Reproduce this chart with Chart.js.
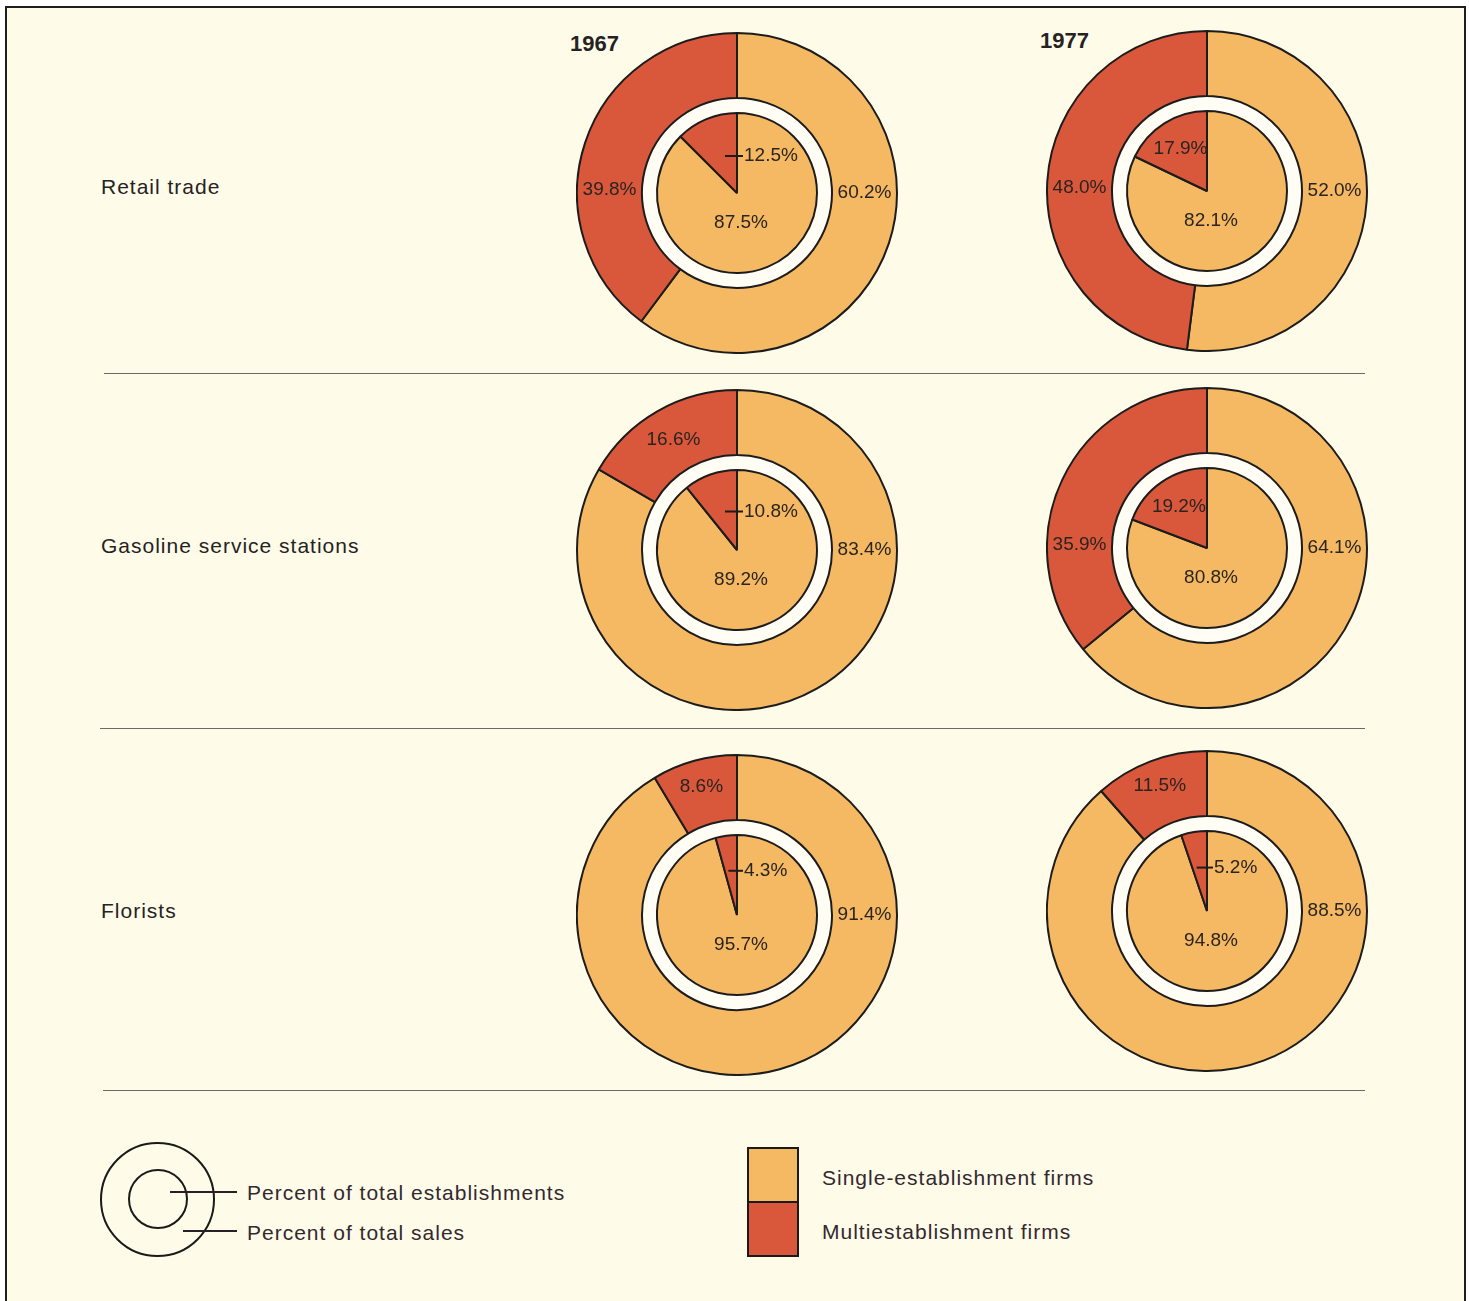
<!DOCTYPE html>
<html>
<head>
<meta charset="utf-8">
<script src="https://cdn.jsdelivr.net/npm/chart.js@4/dist/chart.umd.min.js"></script>
<style>
  html, body { margin: 0; padding: 0; background: #ffffff; }
  body { width: 1469px; height: 1301px; position: relative; overflow: hidden;
         font-family: "Liberation Sans", Arial, sans-serif; color: #262224; }
  #frame { position: absolute; left: 5px; top: 6px; width: 1457px; height: 1320px;
           border: 2px solid #1e1e1e; background: #fefce8; }
  .txt { position: absolute; transform: translateY(-50%); line-height: 1; white-space: nowrap; }
  .row { font-size: 21px; letter-spacing: 1px; }
  .year { font-size: 22px; font-weight: bold; }
  .leg { font-size: 21px; letter-spacing: 1px; color: #33282f; }
  .rule { position: absolute; height: 0; border-top: 1.5px solid #6a6a66; }
  .pie { position: absolute; }
  .circ { position: absolute; border: 2px solid #1a1a1a; border-radius: 50%; box-sizing: border-box; }
  .lead { position: absolute; height: 2px; background: #2a1f28; }
  .sw { position: absolute; border: 2px solid #1a1a1a; box-sizing: border-box; }
</style>
</head>
<body>
<div id="frame"></div>
<div id="page"></div>
<script>
// categories and years
const categories = ['Retail trade', 'Gasoline service stations', 'Florists'];
const years = ['1967', '1977'];
const seriesNames = ['Single-establishment firms', 'Multiestablishment firms'];

// percent of total sales (outer ring)
const salesSingle1967 = [60.2, 83.4, 91.4];
const salesMulti1967  = [39.8, 16.6, 8.6];
const salesSingle1977 = [52.0, 64.1, 88.5];
const salesMulti1977  = [48.0, 35.9, 11.5];

// percent of total establishments (inner pie)
const estabSingle1967 = [87.5, 89.2, 95.7];
const estabMulti1967  = [12.5, 10.8, 4.3];
const estabSingle1977 = [82.1, 80.8, 94.8];
const estabMulti1977  = [17.9, 19.2, 5.2];

const ORANGE = '#f5b964';
const RED = '#d9573b';
const INK = '#1c1c1c';

const page = document.getElementById('page');
function addDiv(cls, css, text) {
  const d = document.createElement('div');
  d.className = cls;
  Object.assign(d.style, css);
  if (text !== undefined) d.textContent = text;
  page.appendChild(d);
  return d;
}

// layout of the page (positions only)
const colX = [737, 1207];
const rowY = [[193, 191], [550, 548], [915, 911]];
const pieR = 160;

// headings and row labels
addDiv('txt year', { left: '570px', top: '44px' }, years[0]);
addDiv('txt year', { left: '1040px', top: '41px' }, years[1]);
const rowLabelY = [186, 545, 910];
categories.forEach((c, i) => addDiv('txt row', { left: '101px', top: rowLabelY[i] + 'px' }, c));

// separating rules
[[373, 104], [728, 100], [1090, 103]].forEach(([y, x0]) =>
  addDiv('rule', { left: x0 + 'px', top: y + 'px', width: (1365 - x0) + 'px' }));

const fmt = v => v.toFixed(1) + '%';

// label plugin: draws the percentages on the rings
const ringLabels = {
  id: 'ringLabels',
  afterDatasetsDraw(chart) {
    const ctx = chart.ctx;
    ctx.save();
    ctx.fillStyle = '#2a2420';
    ctx.font = '19px "Liberation Sans", Arial, sans-serif';
    ctx.textBaseline = 'middle';
    chart.data.datasets.forEach((ds, di) => {
      if (ds.gap) return;
      const meta = chart.getDatasetMeta(di);
      meta.data.forEach((arc, i) => {
        const p = arc.getProps(['x', 'y', 'startAngle', 'endAngle', 'innerRadius', 'outerRadius']);
        const v = ds.data[i];
        const cx = p.x, cy = p.y;
        const has = a => {
          for (let k = -1; k <= 1; k++) {
            const t = a + k * 2 * Math.PI;
            if (t >= p.startAngle && t <= p.endAngle) return true;
          }
          return false;
        };
        let ang = (p.startAngle + p.endAngle) / 2;
        if (ds.ring === 'outer') {
          let r = (p.innerRadius + p.outerRadius) / 2;
          if (has(0)) ang = 0;
          else if (has(Math.PI)) ang = Math.PI;
          else if (v < 15) r += 6;
          ctx.textAlign = 'center';
          ctx.fillText(fmt(v), cx + r * Math.cos(ang), cy + r * Math.sin(ang) - (ang === Math.PI ? 3 : 0));
        } else {
          const R = p.outerRadius;
          if (i === 0) {
            ctx.textAlign = 'center';
            ctx.fillText(fmt(v), cx + 4, cy + 0.37 * R);
          } else if (v >= 15) {
            const r = 0.62 * R;
            ctx.textAlign = 'center';
            ctx.fillText(fmt(v), cx + r * Math.cos(ang), cy + r * Math.sin(ang));
          } else {
            // small slice: short leader across the radius, value to its right
            const h = R * (0.6 - 0.011 * v);
            const theta = v / 100 * 2 * Math.PI;
            const x0 = cx - Math.min(12, 0.7 * h * Math.tan(theta));
            ctx.strokeStyle = INK;
            ctx.lineWidth = 2;
            ctx.beginPath();
            ctx.moveTo(x0, cy - h);
            ctx.lineTo(cx + 6, cy - h);
            ctx.stroke();
            ctx.textAlign = 'left';
            ctx.fillText(fmt(v), cx + 7, cy - h);
          }
        }
      });
    });
    ctx.restore();
  }
};

function makePie(row, col) {
  const yr = years[col];
  const sales = col === 0 ? [salesSingle1967[row], salesMulti1967[row]] : [salesSingle1977[row], salesMulti1977[row]];
  const estab = col === 0 ? [estabSingle1967[row], estabMulti1967[row]] : [estabSingle1977[row], estabMulti1977[row]];
  const size = 2 * pieR + 2;
  const cx = colX[col], cy = rowY[row][col];
  const cv = document.createElement('canvas');
  cv.className = 'pie';
  cv.width = size; cv.height = size;
  cv.style.left = (cx - size / 2) + 'px';
  cv.style.top = (cy - size / 2) + 'px';
  page.appendChild(cv);
  new Chart(cv.getContext('2d'), {
    type: 'doughnut',
    data: {
      labels: seriesNames,
      datasets: [
        { label: 'Sales ' + yr, ring: 'outer', data: sales, backgroundColor: [ORANGE, RED],
          borderColor: INK, borderWidth: 2, weight: 65, order: 0 },
        { label: 'gap', gap: true, data: [100], backgroundColor: ['#fffdf4'],
          borderWidth: 0, weight: 15, order: 5 },
        { label: 'Establishments ' + yr, ring: 'inner', data: estab, backgroundColor: [ORANGE, RED],
          borderColor: INK, borderWidth: 2, weight: 80, order: 1 }
      ]
    },
    options: {
      responsive: false,
      animation: false,
      cutout: 0,
      layout: { padding: 0 },
      plugins: { legend: { display: false }, tooltip: { enabled: false } },
      elements: { arc: { hoverOffset: 0 } }
    },
    plugins: [ringLabels]
  });
}

for (let r = 0; r < categories.length; r++) {
  for (let c = 0; c < years.length; c++) makePie(r, c);
}

// key at the bottom
addDiv('circ', { left: '100px', top: '1142px', width: '115px', height: '115px' });
addDiv('circ', { left: '128px', top: '1169px', width: '60px', height: '60px' });
addDiv('lead', { left: '170px', top: '1191px', width: '67px' });
addDiv('lead', { left: '183px', top: '1230px', width: '54px' });
addDiv('txt leg', { left: '247px', top: '1192px' }, 'Percent of total establishments');
addDiv('txt leg', { left: '247px', top: '1232px' }, 'Percent of total sales');

addDiv('sw', { left: '747px', top: '1147px', width: '52px', height: '56px', background: ORANGE });
addDiv('sw', { left: '747px', top: '1201px', width: '52px', height: '56px', background: RED });
addDiv('txt leg', { left: '822px', top: '1177px' }, seriesNames[0]);
addDiv('txt leg', { left: '822px', top: '1231px' }, seriesNames[1]);
</script>
</body>
</html>
